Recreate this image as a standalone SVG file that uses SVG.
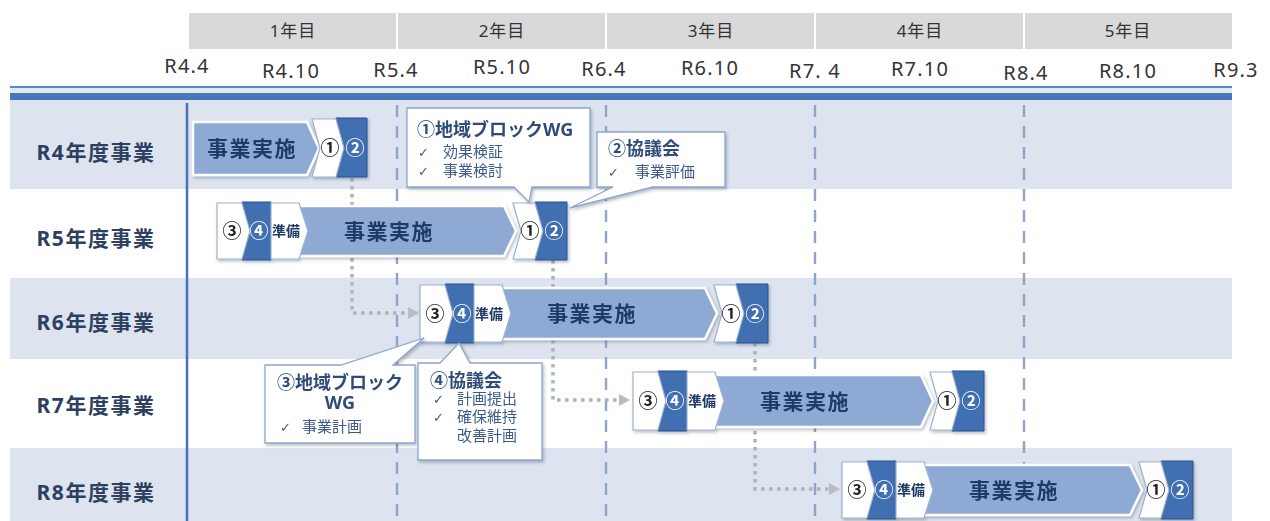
<svg xmlns="http://www.w3.org/2000/svg" width="1270" height="521" viewBox="0 0 1270 521">
<defs>
<style>
.yr{font-family:"Noto Sans","Noto Sans CJK JP",sans-serif;font-size:17px;fill:#333;text-anchor:middle;letter-spacing:1px}
.dt{font-family:"Noto Sans",sans-serif;font-size:20px;fill:#333;text-anchor:middle;letter-spacing:1.2px}
.rl{font-family:"Noto Sans","Noto Sans CJK JP",sans-serif;font-size:21px;font-weight:bold;fill:#2e405f;text-anchor:middle;letter-spacing:1.5px}
.light{fill:#dde4f0}
.dash{stroke:#8ea5c9;stroke-width:2.4;stroke-dasharray:12 9;fill:none}
.dot{stroke:#aeb3bb;stroke-width:3.5;stroke-dasharray:3.5 4.5;fill:none}
.wb{fill:#ffffff;stroke:#9db2d2;stroke-width:1.2}
.db{fill:#3f6fb1;stroke:#2d5490;stroke-width:1}
.big{fill:#8eaad4;stroke:#ffffff;stroke-width:2.5}
.bt{font-family:"Noto Sans CJK JP",sans-serif;font-size:21px;font-weight:bold;fill:#1f3a66;text-anchor:middle;letter-spacing:1.5px}
.cn{font-family:"Noto Sans CJK JP",sans-serif;font-size:19px;font-weight:bold;text-anchor:middle}
.cd{fill:#222}
.cw{fill:#ffffff}
.jb{font-family:"Noto Sans CJK JP",sans-serif;font-size:14px;font-weight:bold;fill:#1f3a66;text-anchor:middle}
.co{fill:#ffffff;stroke:#8da5cb;stroke-width:1.3}
.ct{font-family:"Noto Sans","Noto Sans CJK JP",sans-serif;font-size:18px;font-weight:bold;fill:#2e4b7c}
.ci{font-family:"Noto Sans CJK JP",sans-serif;font-size:15px;fill:#3d5a8a}
.ck{font-family:"DejaVu Sans",sans-serif;font-size:13px;fill:#3d5a8a}
</style>
<filter id="sh" x="-10%" y="-20%" width="130%" height="150%">
<feDropShadow dx="1.5" dy="2" stdDeviation="1.5" flood-color="#3a4a60" flood-opacity="0.35"/>
</filter>
<marker id="ah" markerWidth="11" markerHeight="12" refX="10" refY="6" orient="auto" markerUnits="userSpaceOnUse">
<path d="M0,0 L11,6 L0,12 Z" fill="#b8bcc3"/>
</marker>
</defs>

<rect width="1270" height="521" fill="#ffffff"/>

<g id="header">
<rect x="189" y="13" width="1043" height="36" fill="#d9d9d9"/>
<g stroke="#ffffff" stroke-width="2">
<line x1="397" y1="13" x2="397" y2="49"/>
<line x1="606" y1="13" x2="606" y2="49"/>
<line x1="815" y1="13" x2="815" y2="49"/>
<line x1="1024" y1="13" x2="1024" y2="49"/>
</g>
<text class="yr" x="293" y="37">1年目</text>
<text class="yr" x="502" y="37">2年目</text>
<text class="yr" x="711" y="37">3年目</text>
<text class="yr" x="920" y="37">4年目</text>
<text class="yr" x="1128" y="37">5年目</text>
<text class="dt" x="187" y="73">R4.4</text>
<text class="dt" x="291" y="78">R4.10</text>
<text class="dt" x="396" y="77">R5.4</text>
<text class="dt" x="502" y="74">R5.10</text>
<text class="dt" x="604" y="76">R6.4</text>
<text class="dt" x="710" y="75">R6.10</text>
<text class="dt" x="815" y="78">R7. 4</text>
<text class="dt" x="920" y="76">R7.10</text>
<text class="dt" x="1026" y="80">R8.4</text>
<text class="dt" x="1128" y="78">R8.10</text>
<text class="dt" x="1236" y="77">R9.3</text>
<rect x="10" y="86" width="1222" height="2" fill="#5a86c5"/>
<rect x="10" y="88" width="1222" height="5" fill="#dfeaf6"/>
<rect x="10" y="93" width="1222" height="7" fill="#4776bb"/>
</g>

<g id="grid">
<rect class="light" x="10" y="100" width="1222" height="89"/>
<rect class="light" x="10" y="278" width="1222" height="81"/>
<rect class="light" x="10" y="448" width="1222" height="73"/>
<line x1="187" y1="103" x2="187" y2="521" stroke="#4a72b8" stroke-width="2.5"/>
<line class="dash" x1="397" y1="105" x2="397" y2="521"/>
<line class="dash" x1="606" y1="105" x2="606" y2="521"/>
<line class="dash" x1="815" y1="105" x2="815" y2="521"/>
<line class="dash" x1="1024" y1="105" x2="1024" y2="521"/>
<text class="rl" x="96" y="160">R4年度事業</text>
<text class="rl" x="96" y="246">R5年度事業</text>
<text class="rl" x="96" y="330">R6年度事業</text>
<text class="rl" x="96" y="413">R7年度事業</text>
<text class="rl" x="96" y="500">R8年度事業</text>
</g>

<g id="connectors">
<path class="dot" d="M352,178 V313 H418" marker-end="url(#ah)"/>
<path class="dot" d="M553,260 V400 H629" marker-end="url(#ah)"/>
<path class="dot" d="M755,343 V489 H839" marker-end="url(#ah)"/>
</g>

<g id="r4" filter="url(#sh)">
<path class="big" d="M193,122 H307 L319,148.5 L307,175 H193 Z"/>
<path class="db" d="M336,118 H367 V177 H336 L344,148 Z"/>
<path class="wb" d="M312,119 H336 L344,148 L336,177 H312 L320,148 Z"/>
<text class="bt" x="252" y="156">事業実施</text>
<text class="cn cd" x="330" y="155">①</text>
<text class="cn cw" x="355" y="155">②</text>
</g>

<g id="r5" filter="url(#sh)">
<path class="big" d="M297,206 H504 L516,231 L504,256 H297 L306,231 Z"/>
<path class="db" d="M242,202 H271 V260 H242 L250,231 Z"/>
<path class="wb" d="M217,203 H242 L250,231 L242,259 H217 Z"/>
<path class="wb" d="M271,203 H299 L308,231 L299,259 H271 Z"/>
<path class="db" d="M535,202 H567 V260 H535 L543,231 Z"/>
<path class="wb" d="M513,203 H535 L543,231 L535,259 H513 L521,231 Z"/>
<text class="cn cd" x="232" y="238">③</text>
<text class="cn cw" x="259" y="238">④</text>
<text class="jb" x="286" y="236">準備</text>
<text class="bt" x="389" y="239">事業実施</text>
<text class="cn cd" x="530" y="238">①</text>
<text class="cn cw" x="554" y="238">②</text>
</g>

<g id="r6" filter="url(#sh)">
<path class="big" d="M500,288 H705 L717,313.5 L705,339 H500 L509,313.5 Z"/>
<path class="db" d="M445,284 H474 V343 H445 L453,313.5 Z"/>
<path class="wb" d="M420,285 H445 L453,313.5 L445,342 H420 Z"/>
<path class="wb" d="M474,285 H502 L511,313.5 L502,342 H474 Z"/>
<path class="db" d="M736,284 H768 V343 H736 L744,313.5 Z"/>
<path class="wb" d="M714,285 H736 L744,313.5 L736,342 H714 L722,313.5 Z"/>
<text class="cn cd" x="435" y="320.5">③</text>
<text class="cn cw" x="462" y="320.5">④</text>
<text class="jb" x="489" y="318.5">準備</text>
<text class="bt" x="592" y="321">事業実施</text>
<text class="cn cd" x="731" y="320.5">①</text>
<text class="cn cw" x="755" y="320.5">②</text>
</g>

<g id="r7" filter="url(#sh)">
<path class="big" d="M713,375 H921 L933,401 L921,427 H713 L722,401 Z"/>
<path class="db" d="M658,371 H687 V431 H658 L666,401 Z"/>
<path class="wb" d="M633,372 H658 L666,401 L658,430 H633 Z"/>
<path class="wb" d="M687,372 H715 L724,401 L715,430 H687 Z"/>
<path class="db" d="M952,371 H984 V431 H952 L960,401 Z"/>
<path class="wb" d="M930,372 H952 L960,401 L952,430 H930 L938,401 Z"/>
<text class="cn cd" x="648" y="408">③</text>
<text class="cn cw" x="675" y="408">④</text>
<text class="jb" x="702" y="406">準備</text>
<text class="bt" x="805" y="408.5">事業実施</text>
<text class="cn cd" x="947" y="408">①</text>
<text class="cn cw" x="971" y="408">②</text>
</g>

<g id="r8" filter="url(#sh)">
<path class="big" d="M922,465 H1130 L1142,490 L1130,515 H922 L931,490 Z"/>
<path class="db" d="M867,461 H896 V519 H867 L875,490 Z"/>
<path class="wb" d="M842,462 H867 L875,490 L867,518 H842 Z"/>
<path class="wb" d="M896,462 H924 L933,490 L924,518 H896 Z"/>
<path class="db" d="M1161,461 H1193 V519 H1161 L1169,490 Z"/>
<path class="wb" d="M1139,462 H1161 L1169,490 L1161,518 H1139 L1147,490 Z"/>
<text class="cn cd" x="857" y="497">③</text>
<text class="cn cw" x="884" y="497">④</text>
<text class="jb" x="911" y="495">準備</text>
<text class="bt" x="1014" y="497.5">事業実施</text>
<text class="cn cd" x="1156" y="497">①</text>
<text class="cn cw" x="1180" y="497">②</text>
</g>

<g id="callout1" filter="url(#sh)">
<path class="co" d="M407,108 H590 V187 H532 L529,202 L514,187 H407 Z"/>
<text class="ct" x="417" y="136">①地域ブロックWG</text>
<text class="ck" x="418" y="157">✓</text>
<text class="ci" x="443" y="157">効果検証</text>
<text class="ck" x="418" y="176">✓</text>
<text class="ci" x="443" y="176">事業検討</text>
</g>

<g id="callout2" filter="url(#sh)">
<path class="co" d="M597,132 H725 V187 H653 L570,208 L613,187 H597 Z"/>
<text class="ct" x="608" y="155">②協議会</text>
<text class="ck" x="608" y="177">✓</text>
<text class="ci" x="635" y="177">事業評価</text>
</g>

<g id="callout3" filter="url(#sh)">
<path class="co" d="M265,365 H341 L424,338 L393,365 H415 V443 H265 Z"/>
<text class="ct" x="340" y="389" text-anchor="middle">③地域ブロック</text>
<text class="ct" x="340" y="409" text-anchor="middle">WG</text>
<text class="ck" x="280" y="432">✓</text>
<text class="ci" x="302" y="432">事業計画</text>
</g>

<g id="callout4" filter="url(#sh)">
<path class="co" d="M418,363 H440 L459,343 L470,363 H542 V460 H418 Z"/>
<text class="ct" x="430" y="387">④協議会</text>
<text class="ck" x="433" y="404">✓</text>
<text class="ci" x="457" y="404">計画提出</text>
<text class="ck" x="433" y="422">✓</text>
<text class="ci" x="457" y="422">確保維持</text>
<text class="ci" x="457" y="441">改善計画</text>
</g>
</svg>
